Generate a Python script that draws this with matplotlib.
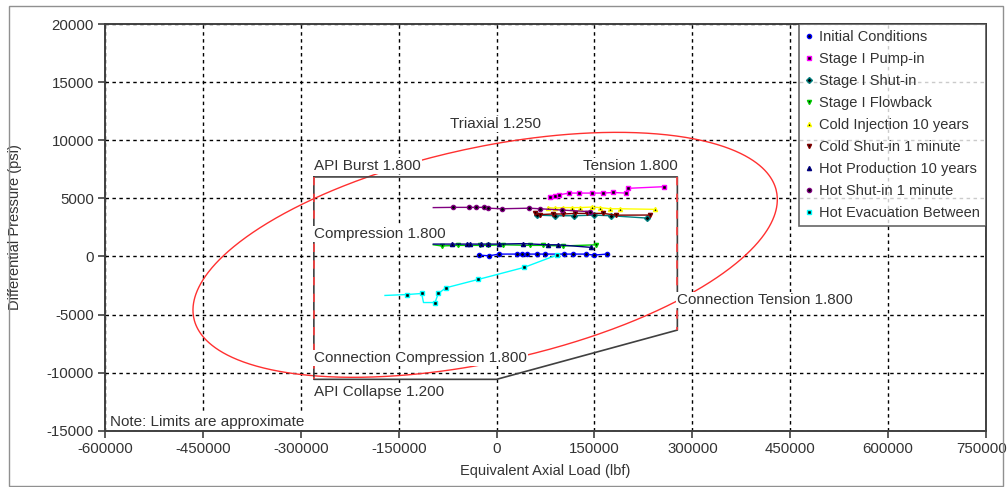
import numpy as np
import matplotlib
matplotlib.use("Agg")
import matplotlib.pyplot as plt
from matplotlib.patches import Rectangle
from matplotlib.transforms import ScaledTranslation

plt.rcParams['font.family'] = ['Liberation Sans', 'DejaVu Sans']
plt.rcParams['axes.unicode_minus'] = False

# load cases: equivalent axial load (lbf) vs differential pressure (psi)
initial_x = [-26500, -11600, 3700, 30800, 38500, 46000, 61400, 74000, 103000, 117500, 136500, 149000, 168700]
initial_y = [110, 50, 200, 200, 200, 200, 200, 200, 200, 200, 200, 110, 200]

pumpin_x = [81800, 89500, 96000, 111000, 126700, 145700, 162600, 178800, 198000, 201800, 256500]
pumpin_y = [5140, 5220, 5300, 5450, 5450, 5450, 5450, 5500, 5450, 5860, 6000]

s1_shutin_x = [62000, 90000, 118000, 150000, 175000, 230000]
s1_shutin_y = [3550, 3500, 3500, 3550, 3500, 3300]

flowback_x = [-97000, -84000, -58700, -25400, -12700, 10300, 51000, 71600, 102000, 153000]
flowback_y = [1000, 900, 950, 950, 950, 1000, 950, 950, 900, 1000]

cold_inj_x = [79000, 89000, 102000, 115000, 128000, 146000, 158000, 174000, 189000, 243000]
cold_inj_y = [4200, 4150, 4200, 4200, 4200, 4250, 4200, 4100, 4100, 4050]

cold_shutin_x = [59000, 66500, 86000, 102000, 120000, 138000, 163500, 183000, 235000]
cold_shutin_y = [3700, 3600, 3650, 3650, 3700, 3700, 3700, 3550, 3560]

hot_prod_x = [-97000, -68800, -45800, -40800, -24400, -12700, 3700, 40900, 79000, 94500, 144000]
hot_prod_y = [1060, 1060, 1060, 1060, 1060, 1060, 1060, 1100, 1000, 1000, 780]

hot_shutin_x = [-97000, -67000, -43000, -32000, -20000, -12700, 7800, 50000, 66500, 100000, 143000]
hot_shutin_y = [4200, 4220, 4220, 4220, 4220, 4150, 4100, 4150, 4100, 3990, 3850]

evac_x = [-171000, -136800, -114800, -112000, -94400, -89300, -77500, -28000, 42000, 92000]
evac_y = [-3360, -3280, -3190, -3970, -3970, -3190, -2700, -1980, -950, 110]

series = [
    ("Initial Conditions", initial_x, initial_y, '#0000ff', 'o', None),
    ("Stage I Pump-in", pumpin_x, pumpin_y, '#ff00ff', 's', None),
    ("Stage I Shut-in", s1_shutin_x, s1_shutin_y, '#008080', 'D', None),
    ("Stage I Flowback", flowback_x, flowback_y, '#00cc00', 'v', slice(1, None)),
    ("Cold Injection 10 years", cold_inj_x, cold_inj_y, '#ffff00', '^', None),
    ("Cold Shut-in 1 minute", cold_shutin_x, cold_shutin_y, '#800000', 'v', None),
    ("Hot Production 10 years", hot_prod_x, hot_prod_y, '#000080', '^', slice(1, None)),
    ("Hot Shut-in 1 minute", hot_shutin_x, hot_shutin_y, '#800080', 'o', slice(1, None)),
    ("Hot Evacuation Between", evac_x, evac_y, '#00ffff', 's', [1, 2, 4, 5, 6, 7, 8, 9]),
]

# design envelope (black) corners
env_x = [-280000, 277000, 277000, 0, -280000, -280000]
env_y = [6840, 6840, -6340, -10580, -10580, 6840]

# points picked along the triaxial 1.250 ellipse
tri_x = [-463000, 433000, 143000, -190000, -403000, -454000, -403000, -327000, -280000,
         -217000, -122000, 0, 77000, 266000, 46000, 276000, 312000, -82000, -214000, -332000]
tri_y = [-5000, 4850, 10600, -10450, 0, -6950, -8900, -9970, 5000,
         6750, 8150, 9740, 10370, 10170, -8220, -4050, -2760, -9740, -10430, -10030]

labels = [
    ("Triaxial 1.250", -72000, 11400, 'left'),
    ("API Burst 1.800", -280000, 7780, 'left'),
    ("Tension 1.800", 277000, 7780, 'right'),
    ("Compression 1.800", -280000, 1920, 'left'),
    ("Connection Tension 1.800", 277000, -3770, 'left'),
    ("Connection Compression 1.800", -280000, -8770, 'left'),
    ("API Collapse 1.200", -280000, -11700, 'left'),
    ("Note: Limits are approximate", -592000, -14250, 'left'),
]

txt = '#333333'
fig = plt.figure(figsize=(10.08, 4.87), dpi=100)
ax = fig.add_axes([0.1042, 0.1156, 0.8740, 0.8351])

ax.set_xlim(-600000, 750000)
ax.set_ylim(-15000, 20000)
ax.set_xticks(np.arange(-600000, 750001, 150000))
ax.set_yticks(np.arange(-15000, 20001, 5000))
ax.grid(True, color='black', linestyle=(0, (2.5, 2.5)), linewidth=1.0)
ax.set_axisbelow(True)
for s in ax.spines.values():
    s.set_color('#404040')
    s.set_linewidth(1.4)
ax.tick_params(direction='out', length=5, width=1.2, color='#404040',
               labelsize=10.8, labelcolor=txt, pad=3)
ax.set_xlabel("Equivalent Axial Load (lbf)", fontsize=10.5, color=txt)
ax.set_ylabel("Differential Pressure (psi)", fontsize=10.5, color=txt)
ax.xaxis.set_label_coords(0.5, -0.082)
ax.yaxis.set_label_coords(-0.094, 0.5)

# last x tick label sits against the figure edge; nudge it inward a little
fig.canvas.draw()
last = ax.get_xticklabels()[-1]
last.set_transform(last.get_transform() + ScaledTranslation(-4 / 100, 0, fig.dpi_scale_trans))

# triaxial ellipse: conic least-squares fit through the picked points
sx, sy = 1e5, 1e3
u = np.array(tri_x) / sx
v = np.array(tri_y) / sy
M = np.column_stack([u * u, u * v, v * v, u, v])
A, B, C, D, E = np.linalg.lstsq(M, np.ones_like(u), rcond=None)[0]
x0, y0 = np.linalg.solve([[2 * A, B], [B, 2 * C]], [-D, -E])
K = A * x0 ** 2 + B * x0 * y0 + C * y0 ** 2 + D * x0 + E * y0
phi = np.linspace(0, 2 * np.pi, 400)
r = np.sqrt((1 - K) / (A * np.cos(phi) ** 2 + B * np.cos(phi) * np.sin(phi) + C * np.sin(phi) ** 2))
ax.plot((x0 + r * np.cos(phi)) * sx, (y0 + r * np.sin(phi)) * sy, color='#ff3030', lw=1.0, zorder=3)

# envelope with red connection dashes on the vertical sides
ax.plot(env_x, env_y, color='#404040', lw=1.2, zorder=3)
ax.plot([env_x[0], env_x[0]], [env_y[0], env_y[4]], color='#ff4040', lw=1.2,
        linestyle=(0, (5, 5)), zorder=3)
ax.plot([env_x[1], env_x[1]], [env_y[1], env_y[2]], color='#ff4040', lw=1.2,
        linestyle=(0, (5, 5)), zorder=3)

for name, xs, ys, col, mk, every in series:
    ax.plot(xs, ys, color=col, lw=1.0, marker=mk, markersize=3.0, markerfacecolor='black',
            markeredgecolor=col, markeredgewidth=1.0, markevery=every, label=name, zorder=4)

for s, x, y, ha in labels:
    ax.text(x, y, s, ha=ha, va='center', fontsize=11, color=txt, zorder=5,
            bbox=dict(facecolor='white', edgecolor='none', pad=0.8))

leg = ax.legend(loc='upper right', borderaxespad=0, fontsize=10.5, frameon=True,
                fancybox=False, edgecolor='#404040', handlelength=0.6, handletextpad=0.4,
                labelspacing=0.55, borderpad=0.4, markerscale=1.0)
leg.get_frame().set_linewidth(1.2)
leg.set_zorder(6)
for h in leg.get_lines():
    h.set_linestyle('None')
for t in leg.get_texts():
    t.set_color(txt)

fig.patches.append(Rectangle((9 / 1008, 1 / 487), 994 / 1008, 480 / 487, transform=fig.transFigure,
                             fill=False, edgecolor='#909090', lw=1.0))

fig.savefig("out.png", dpi=100)
